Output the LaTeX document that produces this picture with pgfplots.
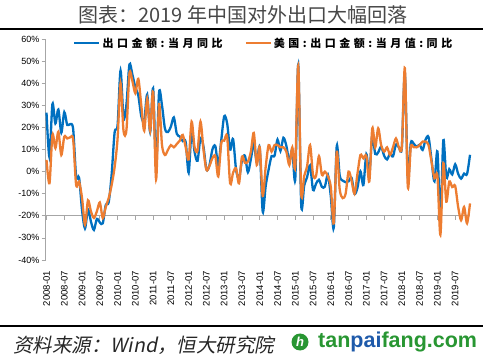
\documentclass[border=0pt]{standalone}
\usepackage{fontspec}
\setmainfont{Liberation Sans}
\newfontfamily\cjk{Noto Sans CJK SC}
\newfontfamily\cjkleg[LetterSpace=32]{Noto Sans CJK SC}
\newfontfamily\cjkit[FakeSlant=0.2]{Noto Sans CJK SC}
\usepackage{pgfplots}
\usepackage{pgfplotstable}
\pgfplotsset{compat=1.18}
\definecolor{sblue}{RGB}{0,112,192}
\definecolor{sorange}{RGB}{237,125,49}
\definecolor{agray}{RGB}{166,166,166}
\definecolor{wgreen}{RGB}{40,150,50}
\definecolor{wblue}{RGB}{30,90,170}

\pgfplotstableread{
m a b
0 26.7 5.3
1 6.5 -5.3
2 30.6 16.6
3 21.8 10.6
4 28.1 18.0
5 17.6 7.5
6 26.9 15.8
7 21.1 15.0
8 21.5 15.5
9 19.2 14.5
10 -2.2 -6.0
11 -2.8 -4.5
12 -17.5 -12
13 -25.7 -24
14 -17.1 -13
15 -22.6 -18
16 -26.4 -21
17 -21.4 -18
18 -23.0 -14
19 -23.4 -21
20 -15.2 -16
21 -13.8 -12
22 -1.2 -6
23 17.7 2
24 21.0 15
25 45.7 40
26 24.3 18.5
27 30.5 19
28 48.5 44.5
29 43.9 41
30 38.1 35.5
31 34.4 42
32 25.1 30
33 22.9 18.5
34 34.9 33
35 17.9 18.5
36 37.7 36
37 2.4 -3.5
38 35.8 30.5
39 29.9 12
40 19.4 7.5
41 17.9 9.8
42 20.4 12
43 24.5 11
44 17.1 12.5
45 15.9 14
46 13.8 16.6
47 13.4 11
48 -0.5 5.5
49 18.4 22.6
50 8.9 11
51 4.9 9.5
52 15.3 22.6
53 11.3 10
54 1.0 0.8
55 2.7 2.5
56 9.9 6
57 11.6 7
58 2.9 -2.2
59 14.1 12.8
60 25.0 14
61 21.8 15.8
62 10.0 -5.3
63 14.7 -0.5
64 1.0 1.5
65 -3.1 -5.3
66 5.1 6.8
67 7.2 4
68 -0.3 4.5
69 5.6 9
70 12.7 17.5
71 4.3 3
72 10.6 11
73 -18.1 -11
74 -6.6 2
75 0.9 12
76 7.0 9
77 7.2 12
78 14.5 12
79 9.4 11
80 15.3 11
81 11.6 9
82 4.7 3
83 9.7 11
84 -3.3 2.3
85 48.3 48
86 -15.0 -9.8
87 -6.4 -2
88 -2.5 2.5
89 2.8 12
90 -8.3 -1.5
91 -5.5 -2
92 -3.7 7
93 -6.9 -1.5
94 -6.8 0
95 -1.4 -2
96 -11.2 -7
97 -25.4 -23.4
98 11.5 9
99 -1.8 -8
100 -4.1 -12
101 -4.8 -10
102 -4.4 0
103 -2.8 -4
104 -10.0 -10
105 -7.3 -1
106 0.1 7.5
107 -6.1 6
108 7.9 7
109 -1.3 -4.5
110 16.4 19.6
111 8.0 11
112 8.7 19.6
113 11.3 12
114 7.2 9
115 5.5 11
116 8.1 7.6
117 6.9 11
118 12.3 15
119 10.9 11
120 11.1 11.5
121 44.5 46.8
122 -2.7 -6.8
123 12.9 11
124 12.6 11
125 11.2 11
126 12.2 12
127 9.8 13.6
128 14.5 13.6
129 15.6 12
130 5.4 4.5
131 -4.4 -3
132 9.1 -2
133 -20.7 -28.6
134 14.2 3.8
135 -2.7 -13.6
136 1.1 -4.5
137 -1.3 -7
138 3.3 -6.5
139 -1.0 -16
140 -3.2 -22
141 -0.9 -16
142 -1.1 -23.4
143 7.6 -14.4
}\data

\begin{document}
\begin{tikzpicture}[x=1pt,y=1pt]
\path[use as bounding box] (0,0) rectangle (488,362);
\node[font=\cjk\fontsize{20}{22}\selectfont, text=black!72] at (243,347) {图表：2019 年中国对外出口大幅回落};
\draw[line width=2.5pt] (0,333) -- (483,333);
\begin{axis}[
  at={(45.5pt,102pt)}, anchor=south west, scale only axis,
  width=424.5pt, height=221pt,
  xmin=-0.34, xmax=143, ymin=-40, ymax=60,
  axis y line*=left, axis x line*=bottom,
  x axis line style={draw=none},
  y axis line style={agray, line width=0.8pt},
  ytick={-40,-30,...,60},
  yticklabels={-40\%,-30\%,-20\%,-10\%,0\%,10\%,20\%,30\%,40\%,50\%,60\%},
  xtick={0,6,...,138},
  xticklabels={2008-01,2008-07,2009-01,2009-07,2010-01,2010-07,2011-01,2011-07,2012-01,2012-07,2013-01,2013-07,2014-01,2014-07,2015-01,2015-07,2016-01,2016-07,2017-01,2017-07,2018-01,2018-07,2019-01,2019-07},
  xtick style={draw=none},
  ytick style={agray, line width=0.8pt},
  tick align=outside, major tick length=4pt,
  yticklabel style={font=\fontsize{9}{10}\selectfont, inner sep=0pt, xshift=-2pt},
  xticklabel style={rotate=90, anchor=east, font=\fontsize{9.5}{10}\selectfont, inner sep=0pt},
  xticklabel shift=7pt,
  legend style={at={(axis description cs:0.065,0.982)}, anchor=west, draw=none, fill=none, inner sep=0pt,
    font=\cjkleg\bfseries\fontsize{11}{13}\selectfont,
    /tikz/every even column/.append style={column sep=20pt}},
  legend columns=2,
  legend image code/.code={\draw[#1] (0pt,0pt) -- (25pt,0pt);},
  clip=false,
]
\draw[agray, line width=0.8pt] (axis cs:-0.34,-20) -- (axis cs:143,-20);
\pgfplotsinvokeforeach{0,6,...,138}{\draw[agray, line width=0.8pt] (axis cs:#1,-20) -- ++(0pt,-4pt);}
\addplot[sblue, line width=2.3pt, smooth, no markers] table[x=m,y=a]{\data};
\addlegendentry{出口金额:当月同比}
\addplot[sorange, line width=2.3pt, smooth, no markers] table[x=m,y=b]{\data};
\addlegendentry{美国:出口金额:当月值:同比}
\end{axis}
\draw[line width=2.5pt] (0,36) -- (483,36);
\node[anchor=west, inner sep=0pt, font=\cjkit\fontsize{19.5}{21}\selectfont, text=black!85] at (13,17) {资料来源：Wind，恒大研究院};
\fill[wgreen] (300,20) circle (8.5);
\node[text=white, font=\bfseries\itshape\fontsize{13}{13}\selectfont] at (300,20) {h};
\node[anchor=west, inner sep=0pt, font=\bfseries\fontsize{21.5}{22}\selectfont] at (318,20) {\textcolor{wgreen}{tan}\textcolor{wblue}{pai}\textcolor{wgreen}{fang.com}};
\end{tikzpicture}
\end{document}
